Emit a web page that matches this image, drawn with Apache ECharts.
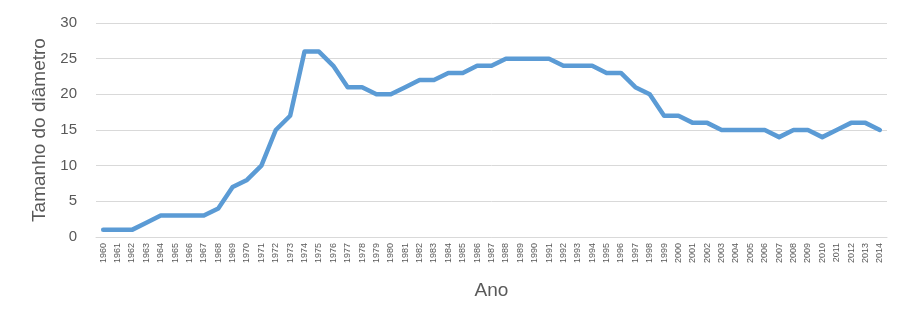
<!DOCTYPE html>
<html>
<head>
<meta charset="utf-8">
<script src="https://cdn.jsdelivr.net/npm/echarts@6/dist/echarts.min.js"></script>
<style>html,body{margin:0;padding:0;background:#fff;}#c{width:911px;height:325px;}</style>
</head>
<body>
<div id="c"></div>
<script>
const years = [];
for (let y = 1960; y <= 2014; y++) years.push(String(y));
const values = [1,1,1,2,3,3,3,3,4,7,8,10,15,17,26,26,24,21,21,20,20,21,22,22,23,23,24,24,25,25,25,25,24,24,24,23,23,21,20,17,17,16,16,15,15,15,15,14,15,15,14,15,16,16,15];
const yTicks = [0,5,10,15,20,25,30];

const chart = echarts.init(document.getElementById('c'));
chart.setOption({
  animation: false,
  grid: {left: 96, right: 24, top: 23, bottom: 88},
  xAxis: {
    type: 'category',
    data: years,
    boundaryGap: true,
    name: 'Ano',
    nameLocation: 'middle',
    nameGap: 44,
    nameTextStyle: {fontSize: 19, color: '#595959', fontFamily: 'Liberation Sans'},
    axisLine: {lineStyle: {color: '#d9d9d9', width: 1}},
    axisTick: {show: false},
    axisLabel: {rotate: 90, interval: 0, fontSize: 9, color: '#595959', fontFamily: 'Liberation Sans Narrow, Liberation Sans', margin: 6}
  },
  yAxis: {
    type: 'value',
    min: 0, max: 30, interval: 5,
    name: 'Tamanho do diâmetro',
    nameLocation: 'middle',
    nameGap: 46,
    nameTextStyle: {fontSize: 19, color: '#595959', fontFamily: 'Liberation Sans'},
    axisLine: {show: false},
    axisTick: {show: false},
    splitLine: {lineStyle: {color: '#d9d9d9', width: 1}},
    axisLabel: {fontSize: 15, color: '#595959', fontFamily: 'Liberation Sans', margin: 19,
      formatter: v => yTicks.includes(v) ? String(v) : ''}
  },
  series: [{
    type: 'line',
    data: values,
    symbol: 'none',
    lineStyle: {color: '#5B9BD5', width: 4.5, cap: 'round', join: 'round'}
  }]
});
</script>
</body>
</html>
